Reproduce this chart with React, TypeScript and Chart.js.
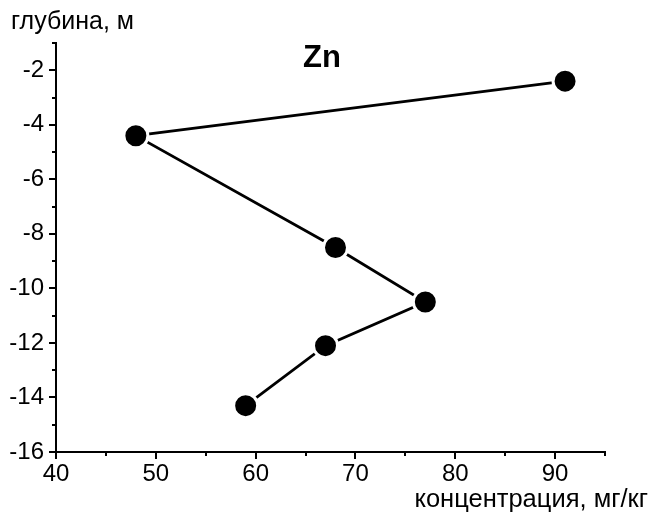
import React, { useEffect, useRef } from "react";
import { Chart, registerables } from "chart.js";
Chart.register(...registerables);

const concentration = [91, 48, 68, 77, 67, 59];
const depth = [-2.4, -4.4, -8.5, -10.5, -12.1, -14.3];
const xMajorTicks = [40, 50, 60, 70, 80, 90];
const xMinorTicks = [45, 55, 65, 75, 85, 95];
const yMajorTicks = [-16, -14, -12, -10, -8, -6, -4, -2];
const yMinorTicks = [-15, -13, -11, -9, -7, -5, -3, -1];
const chartTitle = "Zn";
const yTitle = "глубина, м";
const xTitle = "концентрация, мг/кг";

const FONT = "'Liberation Sans', Arial, sans-serif";

const overlayPlugin = {
  id: "overlay",
  afterDraw(chart: any) {
    const ctx = chart.ctx;
    const xs = chart.scales.x;
    const ys = chart.scales.y;
    const area = chart.chartArea;
    ctx.save();
    ctx.strokeStyle = "#000";
    ctx.lineWidth = 2;
    ctx.beginPath();
    for (const v of xMinorTicks) {
      const px = Math.round(xs.getPixelForValue(v));
      ctx.moveTo(px, area.bottom);
      ctx.lineTo(px, area.bottom + 4);
    }
    for (const v of yMinorTicks) {
      const py = Math.round(ys.getPixelForValue(v));
      ctx.moveTo(area.left, py);
      ctx.lineTo(area.left - 4, py);
    }
    ctx.stroke();
    ctx.fillStyle = "#000";
    ctx.font = `25px ${FONT}`;
    ctx.textBaseline = "middle";
    ctx.textAlign = "left";
    ctx.fillText(yTitle, 11, 22);
    ctx.font = `25.5px ${FONT}`;
    ctx.textAlign = "right";
    ctx.fillText(xTitle, 648, 500);
    ctx.font = `bold 31px ${FONT}`;
    ctx.textAlign = "center";
    ctx.fillText(chartTitle, 322, 58);
    ctx.restore();
  },
};

export default function App() {
  const ref = useRef<HTMLCanvasElement>(null);
  useEffect(() => {
    if (!ref.current) return;
    const chart = new Chart(ref.current, {
      type: "scatter",
      data: {
        datasets: [
          {
            data: concentration.map((x, i) => ({ x, y: depth[i] })),
            showLine: true,
            borderColor: "#000",
            borderWidth: 2.8,
            pointRadius: 12,
            pointHoverRadius: 12,
            pointBorderWidth: 3,
            pointBackgroundColor: "#000",
            pointBorderColor: "#fff",
            clip: false as any,
          },
        ],
      },
      options: {
        animation: false,
        responsive: true,
        maintainAspectRatio: false,
        events: [],
        layout: { padding: { top: 43, right: 48, bottom: 0, left: 0 } },
        plugins: { legend: { display: false }, tooltip: { enabled: false } },
        scales: {
          x: {
            type: "linear",
            min: 40,
            max: 95,
            afterBuildTicks: (s: any) => {
              s.ticks = xMajorTicks.map((v) => ({ value: v }));
            },
            afterFit: (s: any) => {
              s.height = 67;
            },
            grid: { drawOnChartArea: false, drawTicks: true, tickLength: 7, color: "#000", lineWidth: 2 },
            border: { display: true, color: "#000", width: 2 },
            ticks: { color: "#000", font: { size: 24, family: FONT }, padding: 1, maxRotation: 0 },
          },
          y: {
            type: "linear",
            min: -16,
            max: -1,
            afterBuildTicks: (s: any) => {
              s.ticks = yMajorTicks.map((v) => ({ value: v }));
            },
            afterFit: (s: any) => {
              s.width = 56;
            },
            grid: { drawOnChartArea: false, drawTicks: true, tickLength: 7, color: "#000", lineWidth: 2 },
            border: { display: true, color: "#000", width: 2 },
            ticks: { color: "#000", font: { size: 24, family: FONT }, padding: 5 },
          },
        },
      },
      plugins: [overlayPlugin],
    });
    return () => chart.destroy();
  }, []);
  return (
    <div style={{ position: "absolute", left: 0, top: 0, width: 653, height: 519 }}>
      <canvas ref={ref} />
    </div>
  );
}
